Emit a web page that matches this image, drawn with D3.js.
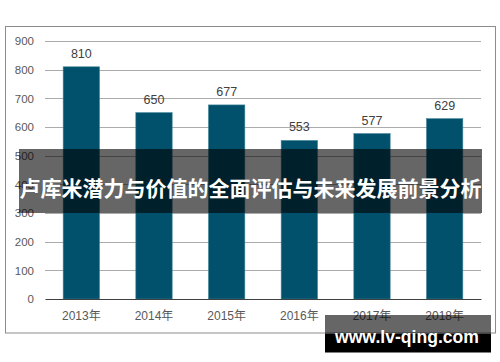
<!DOCTYPE html>
<html><head><meta charset="utf-8">
<script src="https://cdn.jsdelivr.net/npm/d3@7/dist/d3.min.js"></script>
<style>html,body{margin:0;padding:0;background:#fff;}svg{display:block;}</style>
</head><body>
<svg id="c" width="500" height="362"></svg>
<script>
const categories = ["2013年","2014年","2015年","2016年","2017年","2018年"];
const values = [810, 650, 677, 553, 577, 629];
const yTicks = [0,100,200,300,400,500,600,700,800,900];
const title = "卢库米潜力与价值的全面评估与未来发展前景分析";
const watermark = "www.lv-qing.com";

const svg = d3.select("#c");
const plot = {left:45, right:481, top:41, bottom:299};

// frame
svg.append("rect").attr("x",5.5).attr("y",26.5).attr("width",490).attr("height",306.5)
  .attr("fill","#fff").attr("stroke","#8c8c8c").attr("stroke-width",1);

const x = d3.scaleBand().domain(categories).range([plot.left, plot.right]).paddingInner(0.5).paddingOuter(0.25);
const y = d3.scaleLinear().domain([0,900]).range([plot.bottom, plot.top]);

// gridlines
svg.append("g").selectAll("line").data(yTicks.filter(d=>d>0)).join("line")
  .attr("x1",plot.left).attr("x2",plot.right)
  .attr("y1",d=>Math.round(y(d))+0.5).attr("y2",d=>Math.round(y(d))+0.5)
  .attr("stroke","#ababab").attr("stroke-width",1);

// y labels
const yAxis = d3.axisLeft(y).tickValues(yTicks).tickSize(0).tickPadding(0);
const gy = svg.append("g").attr("transform",`translate(${plot.left-11},0)`).call(yAxis);
gy.select(".domain").remove();
gy.selectAll("text").attr("font-family","'Liberation Sans', Arial, sans-serif")
  .attr("font-size","11.5px").attr("fill","#595959");

// bars
svg.append("g").selectAll("rect").data(values).join("rect")
  .attr("x",(d,i)=>x(categories[i])).attr("width",x.bandwidth())
  .attr("y",d=>y(d)).attr("height",d=>y(0)-y(d))
  .attr("fill","#01516c").attr("stroke","#3f8398").attr("stroke-width",0.6);

// value labels
svg.append("g").selectAll("text").data(values).join("text")
  .attr("x",(d,i)=>x(categories[i])+x.bandwidth()/2).attr("y",d=>y(d)-9)
  .attr("text-anchor","middle").attr("font-family","'Liberation Sans', Arial, sans-serif")
  .attr("font-size","12.5px").attr("fill","#404040").text(d=>d);

// x axis baseline + labels
const xAxis = d3.axisBottom(x).tickSize(0).tickPadding(12);
const gx = svg.append("g").attr("transform",`translate(0,${plot.bottom})`).call(xAxis);
gx.select(".domain").attr("stroke","#404040").attr("stroke-width",1.2);
gx.selectAll("text").attr("font-family","'Liberation Sans', 'Noto Sans CJK SC', Arial, sans-serif")
  .attr("font-size","12px").attr("fill","#595959");

// title banner
svg.append("rect").attr("x",19).attr("y",149).attr("width",463).attr("height",64)
  .attr("fill","rgba(0,0,0,0.6)");
svg.append("text").attr("x",250.5).attr("y",187).attr("dominant-baseline","central")
  .attr("text-anchor","middle").attr("font-family","'Noto Sans CJK SC', sans-serif")
  .attr("font-weight","bold").attr("font-size","21px").attr("fill","#fff").text(title);

// watermark
svg.append("rect").attr("x",325).attr("y",315).attr("width",166).attr("height",18.5)
  .attr("fill","rgba(0,0,0,0.6)");
svg.append("rect").attr("x",325).attr("y",333.5).attr("width",166).attr("height",19)
  .attr("fill","#000");
svg.append("text").attr("x",407).attr("y",337).attr("dominant-baseline","central")
  .attr("text-anchor","middle").attr("font-family","'Liberation Sans', Arial, sans-serif")
  .attr("font-weight","bold").attr("font-size","18px").attr("fill","#fff")
  .attr("textLength",144).attr("lengthAdjust","spacingAndGlyphs").text(watermark);
</script>
</body></html>
